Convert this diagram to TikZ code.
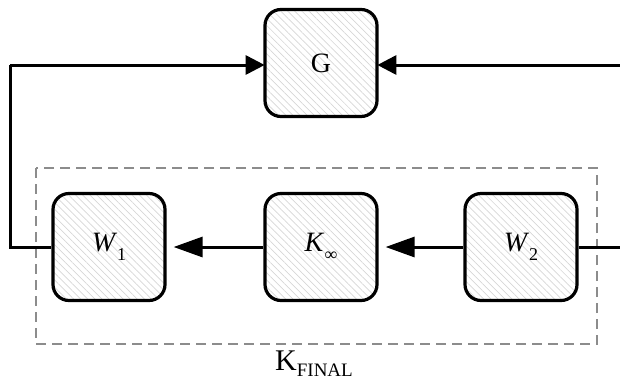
\documentclass[tikz,border=0pt]{standalone}
\usepackage{fontspec}
\setmainfont{Liberation Serif}
\usetikzlibrary{arrows.meta,patterns.meta}
\newcommand{\lbl}{\fontsize{28}{30}\selectfont}
\newcommand{\sub}[1]{\raisebox{-0.34em}{\fontsize{18}{18}\selectfont #1}}
\begin{document}
\begin{tikzpicture}[x=1pt,y=-1pt,
  block/.style={draw=black,line width=3.2pt,rounded corners=16pt,
    minimum width=112pt,minimum height=107pt,inner sep=0pt,
    pattern={Lines[angle=-45,distance=5pt,line width=0.7pt]},
    pattern color=black!16,font=\lbl},
  wire/.style={line width=3pt},
  flow/.style={wire,-{Triangle[length=19pt,width=19pt]}},
  longflow/.style={wire,-{Triangle[length=29pt,width=20pt]},shorten >=7pt},
  frame/.style={draw=black!45,line width=2.8pt,dash pattern=on 10pt off 6pt}]
  \useasboundingbox (0,0) rectangle (620,381);

  % dashed outline around the controller parts
  \draw[frame] (36,168) rectangle (597,344);
  \node[font=\fontsize{30}{32}\selectfont,anchor=base] (kf) at (314,370)
    {K\raisebox{-0.22em}{\fontsize{19}{20}\selectfont FINAL}};

  % plant and controller blocks
  \node[block] (g) at (321,63) {G};
  \node[block] (w1) at (109,247) {\textit{W}\sub{1}};
  \node[block] (kinf) at (321,247) {\textit{K}\sub{∞}};
  \node[block] (w2) at (521,247) {\textit{W}\sub{2}};

  % connectors
  \coordinate (tl) at (10,65);
  \coordinate (bl) at (10,247);
  \coordinate (tr) at (620,65);
  \coordinate (br) at (620,247);
  \draw[wire] (w1.west) -- (bl) -- (tl);
  \draw[flow] (tl) -- (g.west |- tl);
  \draw[flow] (tr) -- (g.east |- tr);
  \draw[wire] (br) -- (w2.east);
  \draw[longflow] (w2.west) -- (kinf.east);
  \draw[longflow] (kinf.west) -- (w1.east);
\end{tikzpicture}
\end{document}
